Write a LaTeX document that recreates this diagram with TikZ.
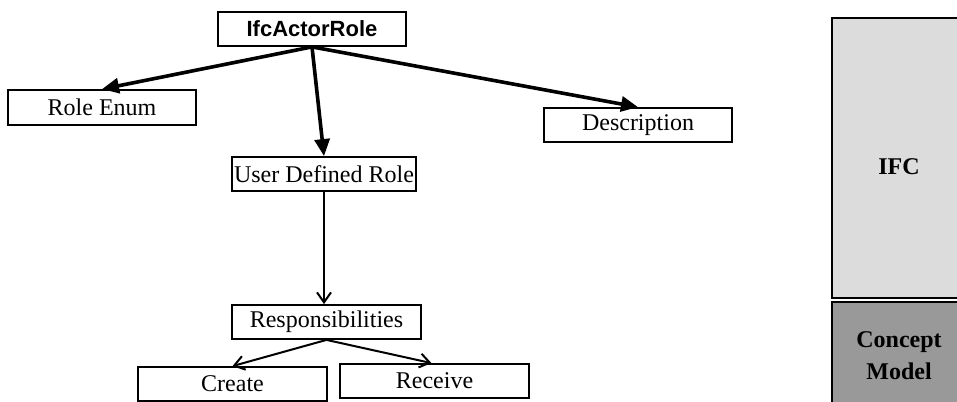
\documentclass[tikz,border=0pt]{standalone}
\usepackage{fontspec}
\setmainfont{Liberation Serif}
\newfontfamily\headfont{Liberation Sans}
\usetikzlibrary{arrows.meta}
\definecolor{ifcgray}{HTML}{DCDCDC}
\definecolor{cmgray}{HTML}{999999}
\begin{document}
\begin{tikzpicture}[x=1pt,y=-1pt,
  box/.style={draw=black,line width=1.8pt,fill=white,minimum height=34pt,inner sep=0pt,
    font=\fontsize{24}{28}\selectfont},
  heavy/.style={line width=3.6pt,-{Triangle[length=17pt,width=15pt]}},
  light/.style={line width=2pt,-{Straight Barb[length=10pt,width=14pt,line width=2pt]}},
  panel/.style={draw=black,line width=2.4pt}]
\useasboundingbox (0,0) rectangle (957,401);
\begin{scope}
\clip (0,0) rectangle (957,401);
% layer panels on the right
\draw[panel,fill=ifcgray] (832,18) rectangle (968,298);
\node[font=\bfseries\fontsize{24}{32}\selectfont] (ifclbl) at (899,167) {IFC};
\draw[panel,fill=cmgray] (832,302) rectangle (968,410);
\node[font=\bfseries\fontsize{24}{32}\selectfont,align=center] (cmlbl) at (899,356) {Concept\\Model};
% attribute tree
\node[box,minimum width=188pt,font=\headfont\bfseries\fontsize{22}{26}\selectfont] (actor) at (312,29) {IfcActorRole};
\node[box,minimum width=188pt,minimum height=35pt] (enum) at (102,107.5) {Role Enum};
\node[box,minimum width=184pt] (udr) at (324,174) {User Defined Role};
\node[box,minimum width=188pt] (desc) at (638,125) {Description};
\node[box,minimum width=189pt] (resp) at (326.5,322) {Responsibilities};
\node[box,minimum width=189pt] (create) at (232.5,384) {Create};
\node[box,minimum width=189pt] (recv) at (434.5,381) {Receive};
\draw[heavy] (actor.south) -- (enum.north);
\draw[heavy] (actor.south) -- (udr.north);
\draw[heavy] (actor.south) -- (desc.north);
\draw[light] (udr.south) -- (udr.south |- resp.north);
\draw[light] (resp.south) -- (create.north);
\draw[light] (resp.south) -- ([xshift=-3pt]recv.north);
\end{scope}
\end{tikzpicture}
\end{document}
